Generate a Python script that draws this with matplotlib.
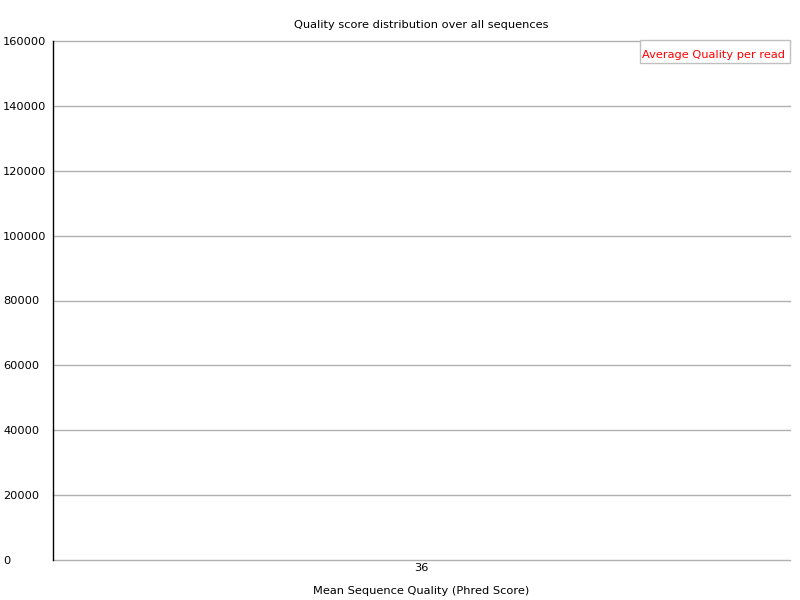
import matplotlib
matplotlib.use("Agg")
import matplotlib.pyplot as plt
from matplotlib.patches import Rectangle

quality_labels = ["36"]
read_counts = [150000]
y_ticks = [0, 20000, 40000, 60000, 80000, 100000, 120000, 140000, 160000]
series_label = 'Average Quality per read'

FS = 8.2
plt.rcParams['font.family'] = ['DejaVu Sans']
fig = plt.figure(figsize=(8, 6), dpi=100)
ax = fig.add_axes([53/800, 40/600, (790-53)/800, (560-41)/600])

x = list(range(len(quality_labels)))
ax.plot(x, read_counts, color='#ff0000', linewidth=1, label=series_label)

ax.set_xlim(-0.5, len(quality_labels) - 0.5)
ax.set_ylim(0, 160000)
ax.set_yticks(y_ticks)
ax.set_yticklabels([str(v) for v in y_ticks], fontsize=FS)
for t in ax.get_yticklabels():
    t.set_ha('left')
ax.set_xticks(x)
ax.set_xticklabels(quality_labels, fontsize=FS)
ax.tick_params(axis='x', length=0, pad=2.5)
ax.tick_params(axis='y', length=0, pad=36)

for v in y_ticks:
    ax.axhline(v, color='#b0b0b0', linewidth=1, zorder=0, clip_on=False)

for s in ['top', 'right', 'bottom']:
    ax.spines[s].set_visible(False)
ax.spines['left'].set_color('black')
ax.spines['left'].set_linewidth(1)
ax.spines['left'].set_zorder(3)

ax.set_xlabel('Mean Sequence Quality (Phred Score)', fontsize=FS, labelpad=9)
fig.text(421/800, 1 - 25/600, 'Quality score distribution over all sequences',
         ha='center', va='center', fontsize=FS)

# legend box (manual, FastQC style)
fig.patches.append(Rectangle((640/800, 1 - 63/600), 150/800, 23/600,
                             transform=fig.transFigure, facecolor='white',
                             edgecolor='#c0c0c0', linewidth=1, zorder=5))
fig.text(714/800, 1 - 55/600, series_label, color='#ff0000', fontsize=FS,
         ha='center', va='center', zorder=6)

fig.savefig('out.png', dpi=100)
